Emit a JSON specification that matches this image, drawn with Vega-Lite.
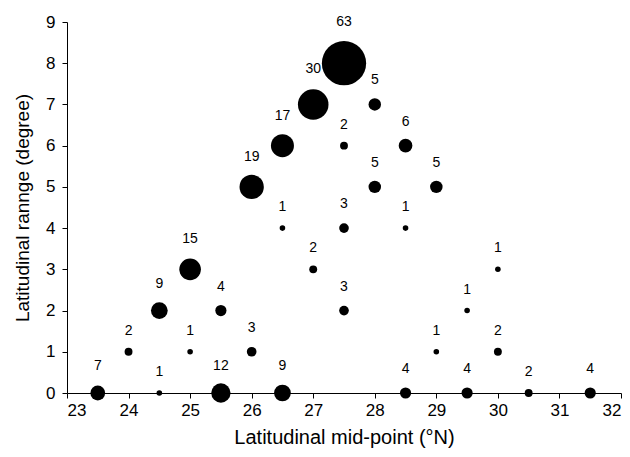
{
  "$schema": "https://vega.github.io/schema/vega-lite/v6.json",
  "width": 554,
  "height": 371,
  "autosize": "none",
  "padding": {"left": 67, "top": 22, "right": 9, "bottom": 64},
  "background": "white",
  "config": {
    "view": {"stroke": null},
    "font": "Liberation Sans",
    "text": {"fontSize": 14, "color": "black", "baseline": "middle", "font": "Liberation Sans"},
    "axis": {
      "grid": false,
      "domainColor": "black",
      "tickColor": "black",
      "labelColor": "black",
      "titleColor": "black",
      "labelFontSize": 17,
      "titleFontWeight": "normal",
      "tickSize": 5,
      "labelFont": "Liberation Sans",
      "titleFont": "Liberation Sans"
    }
  },
  "data": {
    "values": [
      {"mid": 23.5, "range": 0, "count": 7},
      {"mid": 24, "range": 1, "count": 2},
      {"mid": 24.5, "range": 2, "count": 9},
      {"mid": 24.5, "range": 0, "count": 1},
      {"mid": 25, "range": 3, "count": 15},
      {"mid": 25, "range": 1, "count": 1},
      {"mid": 25.5, "range": 2, "count": 4},
      {"mid": 25.5, "range": 0, "count": 12},
      {"mid": 26, "range": 5, "count": 19},
      {"mid": 26, "range": 1, "count": 3},
      {"mid": 26.5, "range": 6, "count": 17},
      {"mid": 26.5, "range": 4, "count": 1},
      {"mid": 26.5, "range": 0, "count": 9},
      {"mid": 27, "range": 7, "count": 30},
      {"mid": 27, "range": 3, "count": 2},
      {"mid": 27.5, "range": 8, "count": 63},
      {"mid": 27.5, "range": 6, "count": 2},
      {"mid": 27.5, "range": 4, "count": 3},
      {"mid": 27.5, "range": 2, "count": 3},
      {"mid": 28, "range": 7, "count": 5},
      {"mid": 28, "range": 5, "count": 5},
      {"mid": 28.5, "range": 6, "count": 6},
      {"mid": 28.5, "range": 4, "count": 1},
      {"mid": 28.5, "range": 0, "count": 4},
      {"mid": 29, "range": 5, "count": 5},
      {"mid": 29, "range": 1, "count": 1},
      {"mid": 29.5, "range": 2, "count": 1},
      {"mid": 29.5, "range": 0, "count": 4},
      {"mid": 30, "range": 3, "count": 1},
      {"mid": 30, "range": 1, "count": 2},
      {"mid": 30.5, "range": 0, "count": 2},
      {"mid": 31.5, "range": 0, "count": 4}
    ]
  },
  "encoding": {
    "x": {
      "field": "mid", "type": "quantitative",
      "scale": {"domain": [23, 32], "nice": false, "zero": false},
      "axis": {"values": [23,24,25,26,27,28,29,30,31,32], "title": "Latitudinal mid-point (°N)", "titleFontSize": 20, "labelPadding": 4, "titlePadding": 9}
    },
    "y": {
      "field": "range", "type": "quantitative",
      "scale": {"domain": [0, 9], "nice": false},
      "axis": {"values": [0,1,2,3,4,5,6,7,8,9], "title": "Latitudinal rannge (degree)", "titleFontSize": 19, "labelPadding": 7, "titlePadding": 13}
    },
    "text": {"field": "count", "type": "quantitative"}
  },
  "layer": [
    {
      "mark": {"type": "circle", "color": "black", "opacity": 1},
      "encoding": {
        "text": null,
        "size": {"field": "count", "type": "quantitative", "scale": {"domain": [0, 63], "range": [0, 1960]}, "legend": null}
      }
    },
    {"transform": [{"filter": "datum.count <= 2"}], "mark": {"type": "text", "dy": -21}},
    {"transform": [{"filter": "datum.count >= 3 && datum.count <= 6"}], "mark": {"type": "text", "dy": -24}},
    {"transform": [{"filter": "datum.count >= 7 && datum.count <= 12"}], "mark": {"type": "text", "dy": -27}},
    {"transform": [{"filter": "datum.count >= 13 && datum.count <= 20"}], "mark": {"type": "text", "dy": -30}},
    {"transform": [{"filter": "datum.count >= 21 && datum.count <= 40"}], "mark": {"type": "text", "dy": -35}},
    {"transform": [{"filter": "datum.count > 40"}], "mark": {"type": "text", "dy": -41}}
  ]
}
